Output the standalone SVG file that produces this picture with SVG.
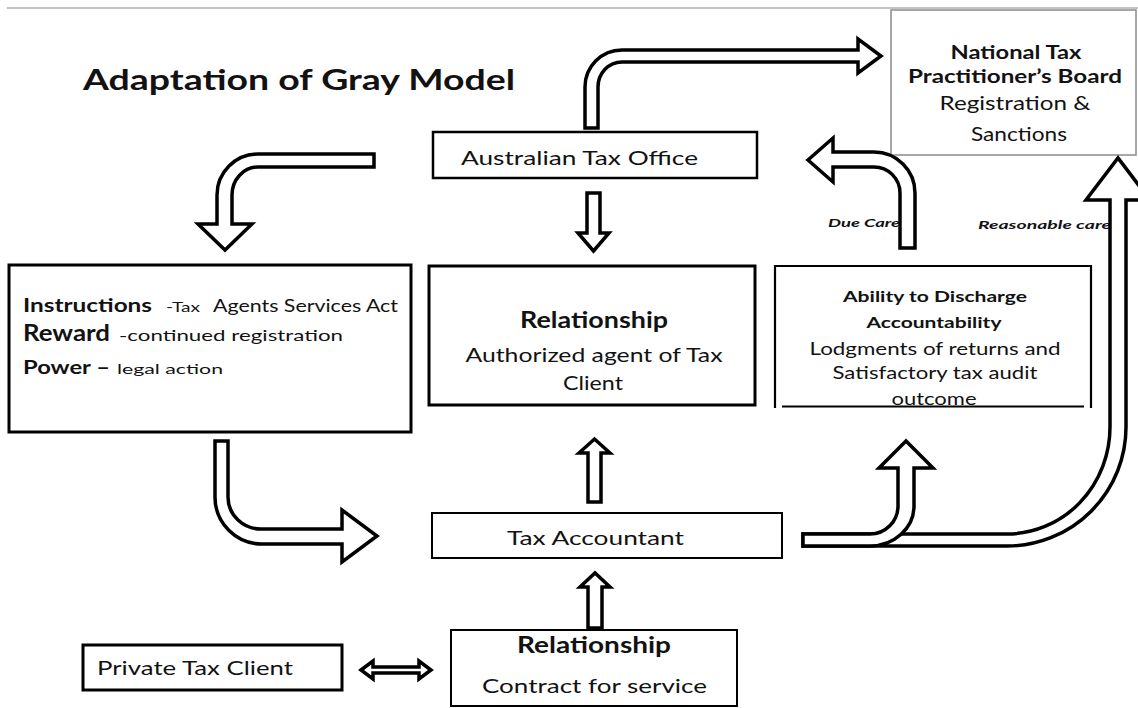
<svg xmlns="http://www.w3.org/2000/svg" width="1138" height="708" viewBox="0 0 1138 708">
  <style>
    .box { fill: #fff; stroke: #000; }
    .t { font-family: Lato, "Liberation Sans", sans-serif; fill: #121212; }
    .b { font-weight: bold; }
    .mid { text-anchor: middle; }
    .note { font-family: Lato, "Liberation Sans", sans-serif; font-weight: bold; font-style: italic; font-size: 12px; fill: #121212; }
    .arrow { fill: #fff; stroke: #000; stroke-width: 3.5; stroke-linejoin: miter; }
  </style>

  <rect width="1138" height="708" fill="#fff"/>
  <line x1="7" y1="8" x2="1138" y2="8" stroke="#c4c4c4" stroke-width="2"/>

  <text class="t b" x="83" y="90" font-size="28" textLength="432" lengthAdjust="spacingAndGlyphs">Adaptation of Gray  Model</text>

  <!-- care labels sit beneath the arrow stems -->
  <g id="labels">
    <text class="note" x="828" y="227" textLength="72" lengthAdjust="spacingAndGlyphs">Due Care</text>
    <text class="note" x="978" y="229" textLength="133" lengthAdjust="spacingAndGlyphs">Reasonable  care</text>
  </g>

  <g id="ato">
    <rect class="box" x="433" y="132" width="324" height="46" stroke-width="2.5"/>
    <text class="t" x="461" y="165" font-size="20" textLength="237" lengthAdjust="spacingAndGlyphs">Australian  Tax Office</text>
  </g>

  <g id="ntpb">
    <rect x="891" y="10" width="245" height="145" fill="#fff" stroke="#8a8a8a" stroke-width="1.5"/>
    <text class="t b mid" x="1016" y="59" font-size="19" textLength="131" lengthAdjust="spacingAndGlyphs">National Tax</text>
    <text class="t b mid" x="1015" y="83" font-size="19" textLength="214" lengthAdjust="spacingAndGlyphs">Practitioner’s Board</text>
    <text class="t mid" x="1015" y="110" font-size="19" textLength="151" lengthAdjust="spacingAndGlyphs">Registration  &amp;</text>
    <text class="t mid" x="1019" y="141" font-size="19" textLength="96" lengthAdjust="spacingAndGlyphs">Sanctions</text>
  </g>

  <g id="controls">
    <rect class="box" x="9" y="265" width="402" height="167" stroke-width="3"/>
    <text class="t b" x="23" y="312" font-size="19" textLength="129" lengthAdjust="spacingAndGlyphs">Instructions</text>
    <text class="t" x="166" y="312" font-size="14" textLength="34" lengthAdjust="spacingAndGlyphs">-Tax</text>
    <text class="t" x="213" y="312" font-size="17" textLength="185" lengthAdjust="spacingAndGlyphs">Agents Services Act</text>
    <text class="t b" x="23" y="341" font-size="22" textLength="87" lengthAdjust="spacingAndGlyphs">Reward</text>
    <text class="t" x="119" y="341" font-size="16" textLength="224" lengthAdjust="spacingAndGlyphs">-continued registration</text>
    <text class="t b" x="23" y="374" font-size="19" textLength="87" lengthAdjust="spacingAndGlyphs">Power –</text>
    <text class="t" x="117" y="374" font-size="14" textLength="106" lengthAdjust="spacingAndGlyphs">legal action</text>
  </g>

  <g id="agent">
    <rect class="box" x="429" y="266" width="326" height="139" stroke-width="3"/>
    <text class="t b mid" x="594" y="328" font-size="22" textLength="148" lengthAdjust="spacingAndGlyphs">Relationship</text>
    <text class="t mid" x="594" y="362" font-size="19" textLength="257" lengthAdjust="spacingAndGlyphs">Authorized agent of Tax</text>
    <text class="t mid" x="593" y="390" font-size="19" textLength="60" lengthAdjust="spacingAndGlyphs">Client</text>
  </g>

  <g id="discharge">
    <path d="M775,408 L775,266 L1091,266 L1091,408" fill="#fff" stroke="#000" stroke-width="2.2"/>
    <text class="t b mid" x="935" y="302" font-size="16" textLength="184" lengthAdjust="spacingAndGlyphs">Ability to Discharge</text>
    <text class="t b mid" x="934" y="328" font-size="16" textLength="135" lengthAdjust="spacingAndGlyphs">Accountability</text>
    <text class="t mid" x="935" y="355" font-size="17" textLength="251" lengthAdjust="spacingAndGlyphs">Lodgments of returns and</text>
    <text class="t mid" x="935" y="379" font-size="17" textLength="205" lengthAdjust="spacingAndGlyphs">Satisfactory tax audit</text>
    <text class="t mid" x="934" y="405" font-size="17" textLength="85" lengthAdjust="spacingAndGlyphs">outcome</text>
    <line x1="782" y1="406.5" x2="1084" y2="406.5" stroke="#000" stroke-width="2.2"/>
  </g>

  <g id="accountant">
    <rect class="box" x="432" y="513" width="350" height="45" stroke-width="2"/>
    <text class="t" x="507" y="545" font-size="20" textLength="177" lengthAdjust="spacingAndGlyphs">Tax Accountant</text>
  </g>

  <g id="client">
    <rect class="box" x="83" y="645" width="259" height="45" stroke-width="3"/>
    <text class="t" x="97" y="675" font-size="20" textLength="196" lengthAdjust="spacingAndGlyphs">Private  Tax Client</text>
  </g>

  <g id="contract">
    <rect class="box" x="451" y="630" width="286" height="76" stroke-width="2"/>
    <text class="t b mid" x="594" y="653" font-size="22" textLength="154" lengthAdjust="spacingAndGlyphs">Relationship</text>
    <text class="t" x="482" y="693" font-size="20" textLength="225" lengthAdjust="spacingAndGlyphs">Contract  for service</text>
  </g>

  <g id="connectors">
    <!-- office up and over to the board -->
    <path class="arrow" d="M585,128 L585,87 A37,37 0 0 1 622,50 L858,50 L858,39 L881,56 L858,73 L858,62 L622,62 A24,25 0 0 0 598,87 L598,128 Z"/>
    <!-- office round and down to the control box -->
    <path class="arrow" d="M374,154 L258,154 A41,41 0 0 0 217,195 L217,224 L198,224 L225,250 L252,224 L232,224 L232,195 A26,28 0 0 1 258,167 L374,167 Z"/>
    <!-- control box down and across to the accountant -->
    <path class="arrow" d="M215,441 L215,497 A47,47 0 0 0 262,544 L342,544 L342,562 L377,536 L342,510 L342,529 L262,529 A33,32 0 0 1 228,497 L228,441 Z"/>
    <!-- due care: discharge box back to the office -->
    <path class="arrow" d="M900,248 L915,248 L915,193 A41,41 0 0 0 874,152 L833,152 L833,138 L808,160 L833,182 L833,167 L874,167 A26,26 0 0 1 900,193 Z"/>
    <!-- reasonable care: accountant round to the board -->
    <path class="arrow" d="M803,534 L1007,534 A103,107 0 0 0 1110,427 L1110,200 L1086,200 L1118,158 L1150,200 L1126,200 L1126,427 A119,119 0 0 1 1007,546 L803,546 Z"/>
    <!-- accountant up to the discharge box -->
    <path class="arrow" d="M803,534 L870,534 A28,28 0 0 0 898,506 L898,468 L879,468 L906,441 L933,468 L914,468 L914,506 A44,40 0 0 1 870,546 L803,546 Z"/>
    <!-- office down to the relationship -->
    <path class="arrow" d="M587,193 L600,193 L600,233 L609,233 L593.5,251 L578,233 L587,233 Z"/>
    <!-- accountant up to the relationship -->
    <path class="arrow" d="M588,502 L601,502 L601,453 L610,453 L594.5,439 L579,453 L588,453 Z"/>
    <!-- contract up to the accountant -->
    <path class="arrow" d="M588,628 L602,628 L602,587 L610,587 L595,573 L580,587 L588,587 Z"/>
    <!-- client and contract, both ways -->
    <path class="arrow" d="M361,670 L373,661 L373,667 L419,667 L419,661 L431,670 L419,679 L419,673 L373,673 L373,679 Z"/>
  </g>
</svg>
